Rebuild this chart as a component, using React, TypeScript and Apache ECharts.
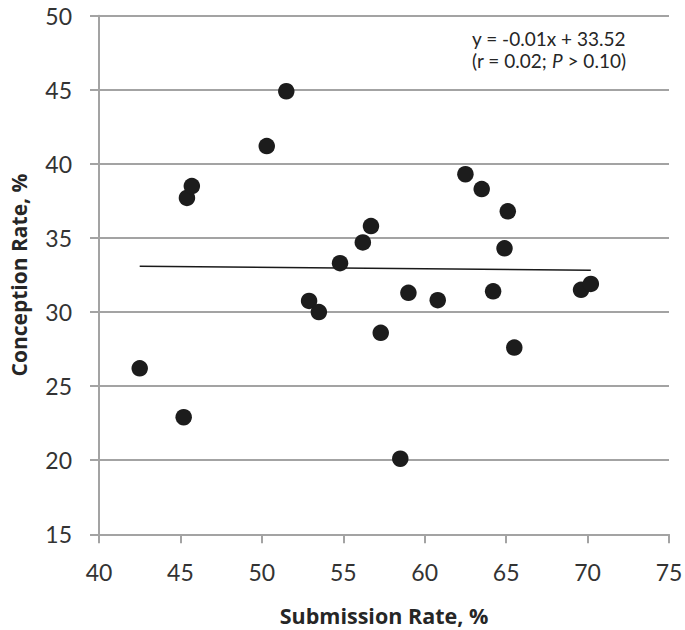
import React, { useEffect, useRef } from "react";
import * as echarts from "echarts";

const submissionRate = [42.5, 45.2, 45.4, 45.7, 50.3, 51.5, 52.9, 53.5, 54.8, 56.2, 56.7, 57.3, 58.5, 59.0, 60.8, 62.5, 63.5, 64.2, 64.9, 65.1, 65.5, 69.6, 70.2];
const conceptionRate = [26.2, 22.9, 37.7, 38.5, 41.2, 44.9, 30.75, 30.0, 33.3, 34.7, 35.8, 28.6, 20.1, 31.3, 30.8, 39.3, 38.3, 31.4, 34.3, 36.8, 27.6, 31.5, 31.9];
const trendSlope = -0.01;
const trendIntercept = 33.52;
const trendX = [42.5, 70.2];
const equationText = "y = -0.01x + 33.52";
const statsText = "(r = 0.02; {i|P} > 0.10)";
const xTitle = "Submission Rate, %";
const yTitle = "Conception Rate, %";

export default function App() {
  const ref = useRef<HTMLDivElement>(null);
  useEffect(() => {
    if (!ref.current) return;
    const chart = echarts.init(ref.current, null, { renderer: "svg" });
    const points = submissionRate.map((x, i) => [x, conceptionRate[i]]);
    const trend = trendX.map((x) => [x, trendSlope * x + trendIntercept]);
    const gridColor = "#a3a3a3";
    const labelFont = "Lato";
    chart.setOption({
      animation: false,
      backgroundColor: "#ffffff",
      grid: { left: 99, right: 16, top: 15.7, bottom: 95.7, containLabel: false, outerBoundsMode: "none" },
      xAxis: {
        type: "value",
        min: 40,
        max: 75,
        interval: 5,
        name: xTitle,
        nameLocation: "middle",
        nameGap: 70,
        nameTextStyle: { fontFamily: "Open Sans", fontWeight: "bold", fontSize: 21.5, color: "#262626" },
        axisLine: { show: true, lineStyle: { color: gridColor, width: 2 } },
        axisTick: { show: true, length: 9, inside: false, lineStyle: { color: gridColor, width: 2 } },
        axisLabel: { fontFamily: labelFont, fontSize: 23, color: "#333333", margin: 26 },
        splitLine: { show: false },
      },
      yAxis: {
        type: "value",
        min: 15,
        max: 50,
        interval: 5,
        name: yTitle,
        nameLocation: "middle",
        nameGap: 70,
        nameRotate: 90,
        nameTextStyle: { fontFamily: "Open Sans", fontWeight: "bold", fontSize: 21, color: "#262626" },
        axisLine: { show: true, lineStyle: { color: gridColor, width: 2 } },
        axisTick: { show: true, length: 9, inside: false, lineStyle: { color: gridColor, width: 2 } },
        axisLabel: { fontFamily: labelFont, fontSize: 23, color: "#333333", margin: 27 },
        splitLine: { show: true, lineStyle: { color: gridColor, width: 2 } },
      },
      graphic: [
        {
          type: "text",
          left: 472,
          top: 29,
          style: {
            text: equationText,
            fontFamily: labelFont,
            fontSize: 19,
            fill: "#262626",
          },
        },
        {
          type: "text",
          left: 472,
          top: 51,
          style: {
            text: statsText,
            fontFamily: labelFont,
            fontSize: 19,
            fill: "#262626",
            rich: {
              i: { fontFamily: labelFont, fontSize: 19, fontStyle: "italic", fill: "#262626" },
            },
          },
        },
      ],
      series: [
        {
          type: "line",
          data: trend,
          symbol: "none",
          lineStyle: { color: "#1a1a1a", width: 1.5 },
          z: 2,
        },
        {
          type: "scatter",
          data: points,
          symbol: "circle",
          symbolSize: 16.5,
          itemStyle: { color: "#1c1c1c", opacity: 1 },
          z: 3,
        },
      ],
    });
    return () => chart.dispose();
  }, []);
  return (
    <div
      ref={ref}
      style={{ position: "fixed", left: 0, top: 0, width: 685, height: 630, background: "#fff" }}
    />
  );
}
